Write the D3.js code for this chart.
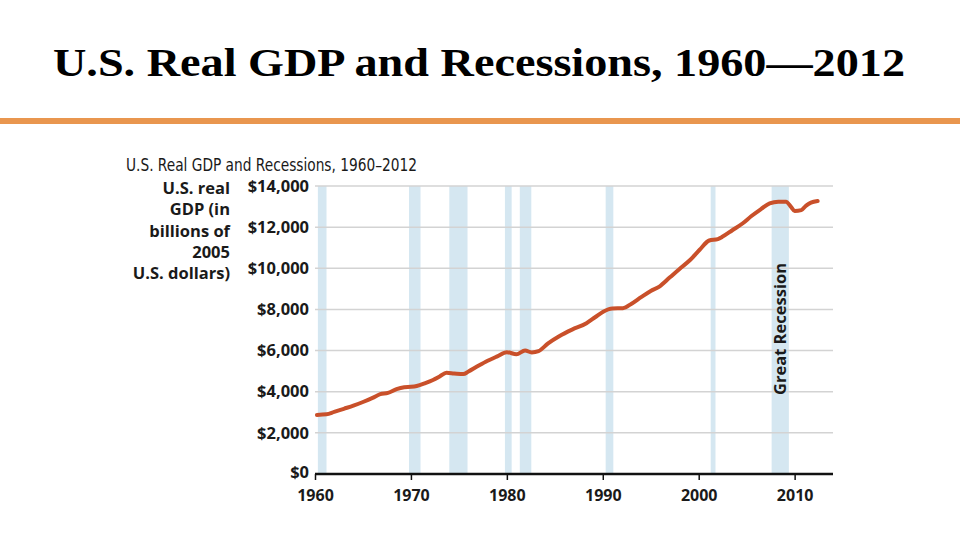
<!DOCTYPE html>
<html>
<head>
<meta charset="utf-8">
<script src="https://cdn.jsdelivr.net/npm/d3@7"></script>
<style>
  body { margin: 0; background: #fff; }
  svg { display: block; }
</style>
</head>
<body>
<div id="chart"></div>
<script>
// data
var years = [1960.2, 1961.2, 1962.0, 1963.0, 1964.0, 1965.0, 1966.0, 1966.8, 1967.6, 1968.5,
	1969.3, 1970.0, 1970.6, 1971.5, 1972.3, 1973.0, 1973.7, 1974.5, 1975.45, 1976.0,
	1976.8, 1977.8, 1979.0, 1980.0, 1981.0, 1981.9, 1982.6, 1983.3, 1984.3, 1985.5,
	1986.8, 1988.3, 1989.2, 1990.0, 1991.0, 1992.1, 1993.0, 1994.0, 1995.0, 1995.9,
	1997.0, 1998.0, 1999.1, 2000.1, 2001.1, 2002.0, 2002.5, 2003.5, 2004.6, 2005.5,
	2006.5, 2007.4, 2008.3, 2009.1, 2009.6, 2010.0, 2010.7, 2011.2, 2011.7, 2012.4];
var gdp = [2870, 2900, 3020, 3170, 3320, 3500, 3700, 3880, 3940, 4130,
	4220, 4240, 4280, 4420, 4570, 4740, 4920, 4890, 4860, 4980,
	5200, 5460, 5720, 5920, 5820, 6000, 5910, 5970, 6350, 6710,
	7020, 7330, 7620, 7880, 8050, 8060, 8280, 8600, 8900, 9110,
	9560, 9970, 10400, 10900, 11350, 11420, 11540, 11850, 12190, 12540,
	12880, 13160, 13240, 13240, 13000, 12790, 12830, 13050, 13190, 13270];
var recessionStart = [1960.3, 1969.8, 1974.0, 1979.8, 1981.35, 1990.3, 2001.25, 2007.6];
var recessionEnd   = [1961.2, 1971.0, 1975.9, 1980.5, 1982.55, 1991.1, 2001.75, 2009.4];
var yTicks = [0, 2000, 4000, 6000, 8000, 10000, 12000, 14000];
var xTicks = [1960, 1970, 1980, 1990, 2000, 2010];
var yTitle = ["U.S. real", "GDP (in", "billions of", "2005", "U.S. dollars)"];

var width = 960, height = 540;
var plot = {left: 315, right: 833, top: 186, bottom: 474};
var labelFont = "'Open Sans', 'DejaVu Sans', sans-serif";

var svg = d3.select("#chart")
  .append("svg")
	.attr("width", width)
	.attr("height", height);

// slide title + orange rule
svg.append("text")
	.attr("x", 53)
	.attr("y", 76)
	.attr("textLength", 852)
	.attr("lengthAdjust", "spacingAndGlyphs")
	.style("font-family", "'Liberation Serif', 'DejaVu Serif', serif")
	.style("font-weight", "bold")
	.style("font-size", "41px")
	.style("fill", "#000")
	.text("U.S. Real GDP and Recessions, 1960\u20142012");

svg.append("rect")
	.attr("x", 0)
	.attr("y", 118)
	.attr("width", width)
	.attr("height", 6)
	.attr("fill", "#E9964F");

// chart heading
svg.append("text")
	.attr("x", 126)
	.attr("y", 171)
	.attr("textLength", 291)
	.attr("lengthAdjust", "spacingAndGlyphs")
	.style("font-family", "'DejaVu Sans Condensed', 'Liberation Sans Narrow', sans-serif")
	.style("font-size", "17px")
	.style("fill", "#1a1a1a")
	.text("U.S. Real GDP and Recessions, 1960\u20132012");

var x = d3.scaleLinear()
	.domain([1960, 2014])
	.range([plot.left, plot.right]);

var y = d3.scaleLinear()
	.domain([0, 14000])
	.range([plot.bottom, plot.top]);

// recession bands
svg.append("g")
  .selectAll("rect")
  .data(recessionStart)
  .join("rect")
	.attr("x", function(d) { return x(d); })
	.attr("width", function(d, i) { return x(recessionEnd[i]) - x(d); })
	.attr("y", y(14000))
	.attr("height", y(0) - y(14000))
	.attr("fill", "#D5E7F1");

// gridlines
svg.append("g")
  .selectAll("line")
  .data(yTicks.filter(function(d) { return d > 0; }))
  .join("line")
	.attr("x1", plot.left)
	.attr("x2", plot.right)
	.attr("y1", function(d) { return y(d); })
	.attr("y2", function(d) { return y(d); })
	.attr("stroke", "#D3D3D3")
	.attr("stroke-width", 1.5);

// Y axis labels
var yAxis = svg.append("g")
	.attr("transform", "translate(" + plot.left + ",0)")
	.call(d3.axisLeft(y).tickValues(yTicks).tickSize(0).tickPadding(6)
		.tickFormat(function(d) { return "$" + d3.format(",")(d); }));
yAxis.select(".domain").remove();
yAxis.selectAll("text")
	.style("font-family", labelFont)
	.style("font-weight", "bold")
	.style("font-size", "16.5px")
	.style("fill", "#1a1a1a");
// $0 sits a touch higher so it clears the 1960 label
yAxis.selectAll(".tick")
	.filter(function(d) { return d === 0; })
	.select("text")
	.attr("dy", "0.2em");

// Y title
svg.append("g")
  .selectAll("text")
  .data(yTitle)
  .join("text")
	.attr("x", 230)
	.attr("y", function(d, i) { return 194 + i * 21.3; })
	.attr("text-anchor", "end")
	.style("font-family", labelFont)
	.style("font-weight", "bold")
	.style("font-size", "16.5px")
	.style("fill", "#1a1a1a")
	.text(function(d) { return d; });

// X axis
var xAxis = svg.append("g")
	.attr("transform", "translate(0," + plot.bottom + ")")
	.call(d3.axisBottom(x).tickValues(xTicks).tickSize(6).tickPadding(10)
		.tickFormat(d3.format("d")));
xAxis.select(".domain")
	.attr("d", "M" + plot.left + ",0H" + plot.right)
	.attr("stroke", "#111")
	.attr("stroke-width", 2.5);
xAxis.selectAll(".tick line")
	.attr("stroke", "#111")
	.attr("stroke-width", 1.5);
xAxis.selectAll("text")
	.style("font-family", labelFont)
	.style("font-weight", "bold")
	.style("font-size", "16px")
	.style("fill", "#1a1a1a");

// GDP line
var points = years.map(function(d, i) { return {year: d, value: gdp[i]}; });
svg.append("path")
  .datum(points)
	.attr("fill", "none")
	.attr("stroke", "#C9502A")
	.attr("stroke-width", 4)
	.attr("stroke-linejoin", "round")
	.attr("stroke-linecap", "round")
	.attr("d", d3.line()
		.curve(d3.curveMonotoneX)
		.x(function(d) { return x(d.year); })
		.y(function(d) { return y(d.value); })
		);

// Great Recession label
svg.append("text")
	.attr("transform", "translate(" + (x(2008.5) + 6) + "," + 329 + ") rotate(-90)")
	.attr("text-anchor", "middle")
	.style("font-family", labelFont)
	.style("font-weight", "bold")
	.style("font-size", "16.5px")
	.style("fill", "#1a1a1a")
	.text("Great Recession");
</script>
</body>
</html>
